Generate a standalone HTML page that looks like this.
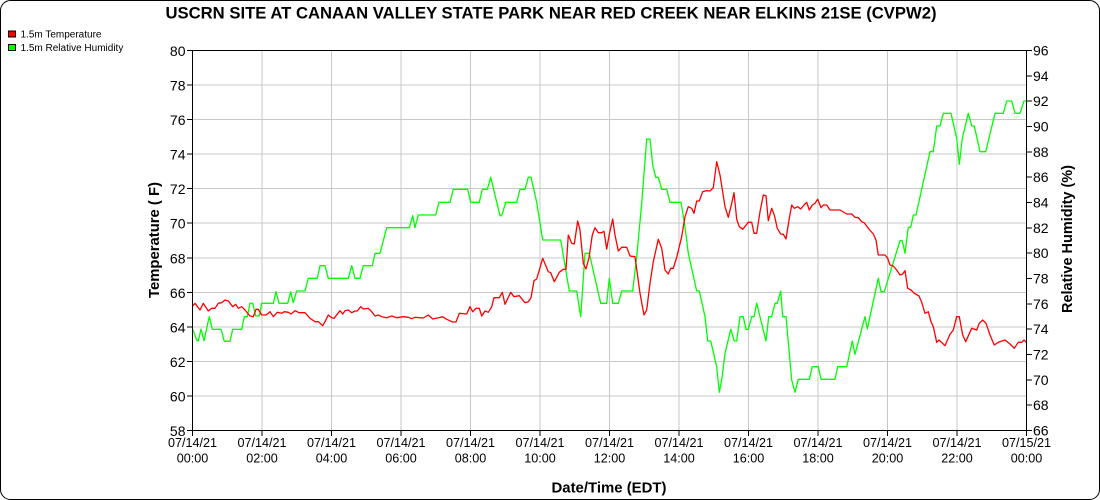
<!DOCTYPE html>
<html><head><meta charset="utf-8"><style>
html,body{margin:0;padding:0;background:#fff;}
svg{display:block;font-family:"Liberation Sans",Arial,sans-serif;}
</style></head><body>
<svg width="1100" height="500" viewBox="0 0 1100 500" xmlns="http://www.w3.org/2000/svg">
<rect x="0" y="0" width="1100" height="500" fill="#fff"/>
<rect x="0.5" y="0.5" width="1099" height="499" rx="10" ry="10" fill="none" stroke="#000" stroke-width="1"/>

<text x="551" y="18.5" font-size="17" font-weight="bold" text-anchor="middle" textLength="771" lengthAdjust="spacingAndGlyphs" fill="#000">USCRN SITE AT CANAAN VALLEY STATE PARK NEAR RED CREEK NEAR ELKINS 21SE (CVPW2)</text>

<!-- legend -->
<rect x="8.5" y="31" width="7" height="6" fill="#ff0000" stroke="#000" stroke-width="1"/>
<text x="20.5" y="37.5" font-size="10" fill="#000">1.5m Temperature</text>
<rect x="8.5" y="44.5" width="7" height="6" fill="#00ff00" stroke="#000" stroke-width="1"/>
<text x="20.5" y="51" font-size="10" fill="#000">1.5m Relative Humidity</text>

<!-- grid -->
<g stroke="#c8c8c8" stroke-width="1" shape-rendering="crispEdges">
<line x1="192.5" y1="85.05" x2="1026.5" y2="85.05"/>
<line x1="192.5" y1="119.59" x2="1026.5" y2="119.59"/>
<line x1="192.5" y1="154.14" x2="1026.5" y2="154.14"/>
<line x1="192.5" y1="188.68" x2="1026.5" y2="188.68"/>
<line x1="192.5" y1="223.23" x2="1026.5" y2="223.23"/>
<line x1="192.5" y1="257.77" x2="1026.5" y2="257.77"/>
<line x1="192.5" y1="292.32" x2="1026.5" y2="292.32"/>
<line x1="192.5" y1="326.86" x2="1026.5" y2="326.86"/>
<line x1="192.5" y1="361.41" x2="1026.5" y2="361.41"/>
<line x1="192.5" y1="395.95" x2="1026.5" y2="395.95"/>
<line x1="262" y1="50.5" x2="262" y2="430.5"/>
<line x1="331.5" y1="50.5" x2="331.5" y2="430.5"/>
<line x1="401" y1="50.5" x2="401" y2="430.5"/>
<line x1="470.5" y1="50.5" x2="470.5" y2="430.5"/>
<line x1="540" y1="50.5" x2="540" y2="430.5"/>
<line x1="609.5" y1="50.5" x2="609.5" y2="430.5"/>
<line x1="679" y1="50.5" x2="679" y2="430.5"/>
<line x1="748.5" y1="50.5" x2="748.5" y2="430.5"/>
<line x1="818" y1="50.5" x2="818" y2="430.5"/>
<line x1="887.5" y1="50.5" x2="887.5" y2="430.5"/>
<line x1="957" y1="50.5" x2="957" y2="430.5"/>
</g>

<!-- series -->
<g fill="none" stroke-width="1.3" stroke-linejoin="round">
<polyline stroke="#00ff00" points="192.7,329.3 197,340.7 198.3,340.7 201,329.3 204,340.7 209.3,316.7 212.3,329.3 221,329.3 224.3,341.3 230,341.3 232.7,329.3 241.7,329.3 244.3,316.7 247.3,316.7 250,303.3 252.7,303.3 255.7,316 259.3,316 261.7,303.3 273.3,303.3 276,291.7 279,303.3 287.7,303.3 290.7,291.7 293.3,302.7 296.7,291 305,291 308.3,278.3 317.3,278.3 320,265.7 325,265.7 328.3,278.3 348.3,278.3 351.7,265.7 355,278.3 360,278.3 363.3,265.7 372.3,265.7 375,253.3 380,253.3 386.7,227.7 409.3,227.7 412.7,215.7 415,227.7 418.3,215 435.7,215 439,202.3 450,202.3 453.3,189.3 467.7,189.3 470.7,202.3 479.3,202.3 482.3,189.3 487.3,189.3 490.7,177.3 500,215.7 501.7,215.7 505.7,202.3 516.7,202.3 520,189.3 525,189.3 528.3,177.3 531,177.3 536.7,202.3 542.7,240 560.7,240 569.3,291 576.7,291 580.7,316.7 585,253.3 589.3,253.3 600.7,303.3 606.7,303.3 609.3,278.3 612.7,303.3 618.3,303.3 621.7,291 632.7,291 636.7,256.7 641.7,203.3 646.7,139 650,139 652.7,165 655.7,177.3 658.3,177.3 661.7,189.3 666.7,189.3 670,202.3 681,202.3 685,226.7 688.3,253.3 696.7,291 699.3,291 705,316.7 707.7,341 710.7,341 716.7,366.7 719.3,392.3 721.7,380 725,353.3 730.7,329.3 734.3,341 736.7,341 740,316.7 743.3,316.7 746,329.3 748.3,329.3 751.7,316.7 754,316.7 756.7,303.3 766,341 768.7,316.7 771.7,316.7 775,303.3 777.3,303.3 780.7,291 782.7,316.7 786,316.7 791.7,380 795,392.3 798.3,379.3 809.3,379.3 812.3,366.7 818.3,366.7 821,379.3 835,379.3 837.7,366.7 846.7,366.7 852.3,341 855,354.3 865,316.7 867.3,329 878.3,278.3 881,291.7 884.3,291.7 900,240.7 902.3,240.7 905,253.3 908.3,227.3 910.7,227.3 913.3,215 916,215 930,151.7 933.3,151.7 936.7,126 940,126 943.3,113.3 951,113.3 956.7,138.3 959.3,164.3 962.3,138.3 968.3,113.3 971.7,126 974.3,126 980,151.7 985.7,151.7 995,113.3 1003.3,113.3 1006.7,101 1011.7,101 1015,113.3 1020,113.3 1024,101 1026.5,101"/>
<polyline stroke="#ff0000" points="192.7,306 195,303.3 200,310 203.3,303.3 208.3,311 211.7,308.3 215,308.3 218.3,303.3 221.7,302.7 225,300 228.3,301 232.7,306.7 235.7,304.3 238.3,308.3 241.7,306.7 245,310 250,316 253.3,316.7 256,309.3 258.3,309.3 261.7,315 266,315 270,311.7 273.3,316.7 277.3,312.3 281.7,313.3 284.3,311.7 288.3,312.3 291,314 295,310.7 299,312.7 305,312.7 310,318.3 315,321.7 318.3,321.7 322.7,325.7 325,321.7 328.3,315 331.7,317.7 334,318.3 340,310.7 342.7,314 345,310.7 348.3,310 351.7,312.7 355,311 357.3,311 360.7,306.7 363.3,309 368.3,308.3 371.7,311.7 375,316 378.3,315 381.7,316.7 386.7,317.7 391.7,316 396.7,317.7 403.3,316.7 408.3,317.3 411.7,318.7 415,317.3 423.3,318 428.3,315 432.7,319 437.3,318 442.7,316.7 446.7,319.3 452.7,322 456,322 459.3,313.3 466.7,314 470,306.7 472.7,311.7 476,308.3 479.3,308.3 481.7,316 485,311 488.3,312.3 491.7,306.7 494,297.7 499.3,297.7 502.3,292.3 505,304.3 510.7,292.3 514,296.7 519.3,295.7 525,302.7 528.3,301.7 531,297.7 534,280.7 536.7,279 542.7,258.3 548.3,271.7 550.7,272.7 554.3,281.7 559.3,272.3 563.3,269.3 566,269.3 568.3,235 571.7,243.3 574.3,244 577.7,221 580,230 583.3,263.3 586,269 589,257.7 592.3,235 595,227.7 598.3,232.7 601.7,232.7 604,231.3 606.7,249 609.3,234.3 612.7,219 615,235 618.3,251 621.7,247.3 626.7,247.3 630,256 635,256.7 640,293.3 644,315 646.7,310 650,283.3 653.3,261.7 658.3,239.3 661.7,248.3 665,270 668.3,274 670.7,268.3 673.3,268.3 676.7,257.3 681.7,236.7 685,216.7 688.3,206.7 691.7,208.3 694,213.3 696.7,201 699.3,201 702.7,191.7 706,190.7 710,191 713.3,187.7 716.7,161.7 720,175 725,206.7 728.3,217.3 731.7,203.3 734,192.7 736.7,219.3 739.3,226.7 742.7,229.3 748.3,222.3 751.7,222.3 754,233.3 756.7,233.3 760,211.7 763.3,195 766,195.7 768.3,220.7 771.7,208.3 774.3,215 777.3,228.3 780.7,234 783.3,234.3 786,239 789,220 791.7,205 794.3,208.3 797.7,206.7 800.7,209 804,205 806.7,202.3 809.3,210 812.3,205 815,203.3 817.7,199.3 821,207.7 823.3,205 826.7,205 830,210 840,210 846.7,214 851.7,214 855,217.3 858.3,217.7 861.7,221.7 864.3,222.7 868.3,228.3 873.3,234 876,240 878.3,255 885,255 887.7,258.3 890,265 893.3,266 896.7,270 900,275 902.3,274.3 905,270.7 907.7,288.3 911,290 914.3,293.3 919,296 921.7,302.3 925,313.3 928.3,311.7 931,321.7 933.3,326.7 936.7,342.3 939,340 945,345.7 950,334.3 953.3,330 956.7,316.7 959.3,316.7 962.7,335 965.7,341.7 971.7,328.3 976.7,330 979.3,323.3 982.7,320 986,323.3 990,335 994.3,345 998.3,342.3 1005,340 1010,344 1014.3,348.3 1018.3,342.3 1021.7,342.3 1024,340 1026.5,342.3"/>
</g>

<!-- axes frame -->
<g stroke="#000" stroke-width="1" shape-rendering="crispEdges" fill="none">
<rect x="192.5" y="50.5" width="834" height="380"/>
<!-- left ticks -->
<line x1="187" y1="50.5" x2="192.5" y2="50.5"/>
<line x1="187" y1="85.05" x2="192.5" y2="85.05"/>
<line x1="187" y1="119.59" x2="192.5" y2="119.59"/>
<line x1="187" y1="154.14" x2="192.5" y2="154.14"/>
<line x1="187" y1="188.68" x2="192.5" y2="188.68"/>
<line x1="187" y1="223.23" x2="192.5" y2="223.23"/>
<line x1="187" y1="257.77" x2="192.5" y2="257.77"/>
<line x1="187" y1="292.32" x2="192.5" y2="292.32"/>
<line x1="187" y1="326.86" x2="192.5" y2="326.86"/>
<line x1="187" y1="361.41" x2="192.5" y2="361.41"/>
<line x1="187" y1="395.95" x2="192.5" y2="395.95"/>
<line x1="187" y1="430.5" x2="192.5" y2="430.5"/>
<!-- right ticks -->
<line x1="1026.5" y1="50.5" x2="1032" y2="50.5"/>
<line x1="1026.5" y1="75.83" x2="1032" y2="75.83"/>
<line x1="1026.5" y1="101.17" x2="1032" y2="101.17"/>
<line x1="1026.5" y1="126.5" x2="1032" y2="126.5"/>
<line x1="1026.5" y1="151.83" x2="1032" y2="151.83"/>
<line x1="1026.5" y1="177.17" x2="1032" y2="177.17"/>
<line x1="1026.5" y1="202.5" x2="1032" y2="202.5"/>
<line x1="1026.5" y1="227.83" x2="1032" y2="227.83"/>
<line x1="1026.5" y1="253.17" x2="1032" y2="253.17"/>
<line x1="1026.5" y1="278.5" x2="1032" y2="278.5"/>
<line x1="1026.5" y1="303.83" x2="1032" y2="303.83"/>
<line x1="1026.5" y1="329.17" x2="1032" y2="329.17"/>
<line x1="1026.5" y1="354.5" x2="1032" y2="354.5"/>
<line x1="1026.5" y1="379.83" x2="1032" y2="379.83"/>
<line x1="1026.5" y1="405.17" x2="1032" y2="405.17"/>
<line x1="1026.5" y1="430.5" x2="1032" y2="430.5"/>
<!-- x ticks -->
<line x1="192.5" y1="430.5" x2="192.5" y2="436"/>
<line x1="262" y1="430.5" x2="262" y2="436"/>
<line x1="331.5" y1="430.5" x2="331.5" y2="436"/>
<line x1="401" y1="430.5" x2="401" y2="436"/>
<line x1="470.5" y1="430.5" x2="470.5" y2="436"/>
<line x1="540" y1="430.5" x2="540" y2="436"/>
<line x1="609.5" y1="430.5" x2="609.5" y2="436"/>
<line x1="679" y1="430.5" x2="679" y2="436"/>
<line x1="748.5" y1="430.5" x2="748.5" y2="436"/>
<line x1="818" y1="430.5" x2="818" y2="436"/>
<line x1="887.5" y1="430.5" x2="887.5" y2="436"/>
<line x1="957" y1="430.5" x2="957" y2="436"/>
<line x1="1026.5" y1="430.5" x2="1026.5" y2="436"/>
</g>

<!-- left tick labels -->
<g font-size="14" text-anchor="end" fill="#000">
<text x="185.5" y="56">80</text>
<text x="185.5" y="90.5">78</text>
<text x="185.5" y="125">76</text>
<text x="185.5" y="159.6">74</text>
<text x="185.5" y="194.2">72</text>
<text x="185.5" y="228.7">70</text>
<text x="185.5" y="263.3">68</text>
<text x="185.5" y="297.8">66</text>
<text x="185.5" y="332.4">64</text>
<text x="185.5" y="366.9">62</text>
<text x="185.5" y="401.5">60</text>
<text x="185.5" y="436">58</text>
</g>
<!-- right tick labels -->
<g font-size="14" text-anchor="start" fill="#000">
<text x="1033" y="55.5">96</text>
<text x="1033" y="80.8">94</text>
<text x="1033" y="106.2">92</text>
<text x="1033" y="131.5">90</text>
<text x="1033" y="156.8">88</text>
<text x="1033" y="182.2">86</text>
<text x="1033" y="207.5">84</text>
<text x="1033" y="232.8">82</text>
<text x="1033" y="258.2">80</text>
<text x="1033" y="283.5">78</text>
<text x="1033" y="308.8">76</text>
<text x="1033" y="334.2">74</text>
<text x="1033" y="359.5">72</text>
<text x="1033" y="384.8">70</text>
<text x="1033" y="410.2">68</text>
<text x="1033" y="435.5">66</text>
</g>
<!-- x tick labels -->
<g font-size="12.6" text-anchor="middle" fill="#000">
<text x="192.5" y="447">07/14/21</text><text x="192.5" y="462.5">00:00</text>
<text x="262" y="447">07/14/21</text><text x="262" y="462.5">02:00</text>
<text x="331.5" y="447">07/14/21</text><text x="331.5" y="462.5">04:00</text>
<text x="401" y="447">07/14/21</text><text x="401" y="462.5">06:00</text>
<text x="470.5" y="447">07/14/21</text><text x="470.5" y="462.5">08:00</text>
<text x="540" y="447">07/14/21</text><text x="540" y="462.5">10:00</text>
<text x="609.5" y="447">07/14/21</text><text x="609.5" y="462.5">12:00</text>
<text x="679" y="447">07/14/21</text><text x="679" y="462.5">14:00</text>
<text x="748.5" y="447">07/14/21</text><text x="748.5" y="462.5">16:00</text>
<text x="818" y="447">07/14/21</text><text x="818" y="462.5">18:00</text>
<text x="887.5" y="447">07/14/21</text><text x="887.5" y="462.5">20:00</text>
<text x="957" y="447">07/14/21</text><text x="957" y="462.5">22:00</text>
<text x="1026.5" y="447">07/15/21</text><text x="1026.5" y="462.5">00:00</text>
</g>

<!-- axis titles -->
<text x="609" y="492.3" font-size="15" font-weight="bold" text-anchor="middle" textLength="115" lengthAdjust="spacingAndGlyphs" fill="#000">Date/Time (EDT)</text>
<text transform="translate(159,240) rotate(-90)" font-size="15" font-weight="bold" text-anchor="middle" textLength="116" lengthAdjust="spacingAndGlyphs" fill="#000">Temperature ( F)</text>
<text transform="translate(1072,239) rotate(-90)" font-size="14.5" font-weight="bold" text-anchor="middle" textLength="148" lengthAdjust="spacingAndGlyphs" fill="#000">Relative Humidity (%)</text>
</svg>
</body></html>
